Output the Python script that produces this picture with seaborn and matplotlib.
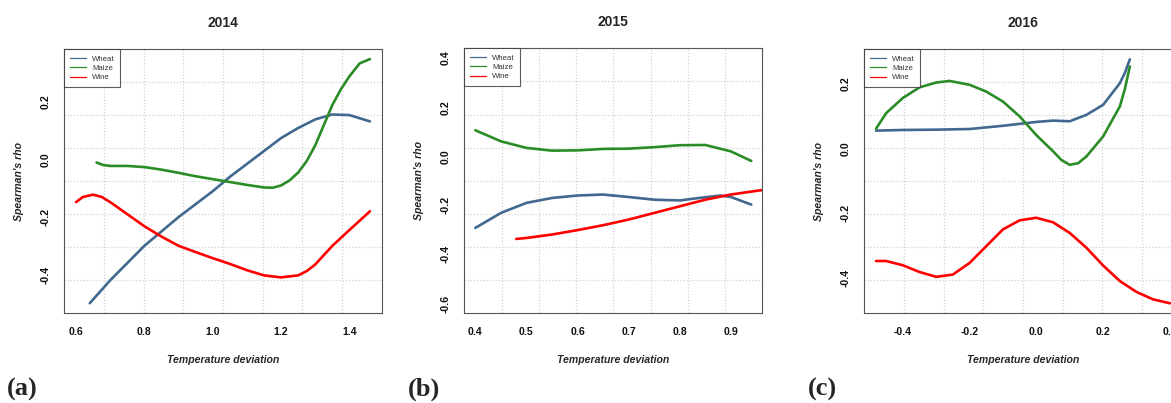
import numpy as np
import pandas as pd
import matplotlib
matplotlib.use("Agg")
import matplotlib.pyplot as plt
from matplotlib.lines import Line2D
import seaborn as sns

# ---- 2014 ----
wheat14_x = [0.64, 0.70, 0.75, 0.80, 0.85, 0.90, 0.95, 1.00, 1.05, 1.10, 1.15, 1.20, 1.25, 1.30, 1.35, 1.40, 1.46]
wheat14_y = [-0.50, -0.42, -0.36, -0.30, -0.25, -0.20, -0.155, -0.11, -0.06, -0.015, 0.03, 0.075, 0.11, 0.14, 0.157, 0.155, 0.133]
maize14_x = [0.66, 0.68, 0.70, 0.75, 0.80, 0.85, 0.90, 0.95, 1.00, 1.05, 1.10, 1.15, 1.175, 1.20, 1.225, 1.25, 1.275, 1.30, 1.325, 1.35, 1.375, 1.40, 1.43, 1.46]
maize14_y = [-0.01, -0.019, -0.022, -0.022, -0.026, -0.035, -0.046, -0.058, -0.068, -0.078, -0.088, -0.097, -0.098, -0.09, -0.072, -0.045, -0.005, 0.05, 0.12, 0.19, 0.245, 0.29, 0.335, 0.35]
wine14_x = [0.60, 0.62, 0.65, 0.675, 0.70, 0.75, 0.80, 0.85, 0.90, 0.95, 1.00, 1.05, 1.10, 1.15, 1.20, 1.25, 1.275, 1.30, 1.35, 1.40, 1.46]
wine14_y = [-0.148, -0.13, -0.122, -0.13, -0.148, -0.19, -0.232, -0.268, -0.30, -0.322, -0.343, -0.363, -0.385, -0.403, -0.41, -0.403, -0.388, -0.365, -0.30, -0.245, -0.18]

# ---- 2015 ----
wheat15_x = [0.40, 0.45, 0.50, 0.55, 0.60, 0.65, 0.70, 0.75, 0.80, 0.85, 0.88, 0.90, 0.94]
wheat15_y = [-0.292, -0.231, -0.19, -0.17, -0.16, -0.156, -0.166, -0.177, -0.18, -0.167, -0.16, -0.166, -0.197]
maize15_x = [0.40, 0.45, 0.50, 0.55, 0.60, 0.65, 0.70, 0.75, 0.80, 0.85, 0.90, 0.94]
maize15_y = [0.106, 0.061, 0.034, 0.023, 0.024, 0.03, 0.031, 0.037, 0.045, 0.046, 0.02, -0.019]
wine15_x = [0.48, 0.50, 0.55, 0.60, 0.65, 0.70, 0.75, 0.80, 0.85, 0.90, 0.95, 1.00]
wine15_y = [-0.337, -0.333, -0.319, -0.301, -0.281, -0.258, -0.231, -0.204, -0.177, -0.156, -0.141, -0.127]

# ---- 2016 ----
wheat16_x = [-0.48, -0.40, -0.30, -0.20, -0.10, -0.05, 0.00, 0.05, 0.10, 0.15, 0.20, 0.25, 0.265, 0.28]
wheat16_y = [0.056, 0.058, 0.059, 0.061, 0.071, 0.077, 0.083, 0.087, 0.085, 0.105, 0.136, 0.203, 0.235, 0.277]
maize16_x = [-0.48, -0.45, -0.40, -0.35, -0.30, -0.26, -0.20, -0.15, -0.10, -0.05, 0.00, 0.05, 0.075, 0.10, 0.125, 0.15, 0.20, 0.25, 0.265, 0.28]
maize16_y = [0.062, 0.11, 0.157, 0.19, 0.205, 0.21, 0.198, 0.177, 0.146, 0.10, 0.042, -0.008, -0.035, -0.05, -0.045, -0.024, 0.038, 0.131, 0.185, 0.255]
wine16_x = [-0.48, -0.45, -0.40, -0.35, -0.30, -0.25, -0.20, -0.15, -0.10, -0.05, 0.00, 0.05, 0.10, 0.15, 0.20, 0.25, 0.30, 0.35, 0.40]
wine16_y = [-0.348, -0.348, -0.361, -0.382, -0.397, -0.39, -0.354, -0.302, -0.25, -0.222, -0.214, -0.228, -0.261, -0.307, -0.362, -0.41, -0.444, -0.467, -0.479]

crops = ["Wheat", "Maize", "Wine"]
palette = {"Wheat": "#41698F", "Maize": "#2A8C27", "Wine": "#FF0000"}

years = ["2014", "2015", "2016"]
panel_tags = ["(a)", "(b)", "(c)"]
series = {
    "2014": [(wheat14_x, wheat14_y), (maize14_x, maize14_y), (wine14_x, wine14_y)],
    "2015": [(wheat15_x, wheat15_y), (maize15_x, maize15_y), (wine15_x, wine15_y)],
    "2016": [(wheat16_x, wheat16_y), (maize16_x, maize16_y), (wine16_x, wine16_y)],
}
xlims = {"2014": (0.5656, 1.4944), "2015": (0.3784, 0.9616), "2016": (-0.5152, 0.4352)}
ylims = {"2014": (-0.535, 0.384), "2015": (-0.64, 0.44), "2016": (-0.510, 0.308)}
xticks = {"2014": [0.6, 0.8, 1.0, 1.2, 1.4],
          "2015": [0.4, 0.5, 0.6, 0.7, 0.8, 0.9],
          "2016": [-0.4, -0.2, 0.0, 0.2, 0.4]}
yticks = {"2014": [-0.4, -0.2, 0.0, 0.2],
          "2015": [-0.6, -0.4, -0.2, 0.0, 0.2, 0.4],
          "2016": [-0.4, -0.2, 0.0, 0.2]}

sns.set_style("white")
plt.rcParams["font.family"] = ["Liberation Sans", "DejaVu Sans"]

W, H = 1171, 403
fig = plt.figure(figsize=(W / 100, H / 100), dpi=100)

# axes boxes in pixels: left, top, right, bottom
boxes = {"2014": (64.3, 49.3, 381.7, 313.3),
         "2015": (464.3, 48.3, 762.3, 313.3),
         "2016": (864.3, 49.3, 1181.7, 313.3)}
tag_x = {"2014": 7, "2015": 408, "2016": 808}

frame_col = "#555555"

for year, tag in zip(years, panel_tags):
    l, t, r, b = boxes[year]
    ax = fig.add_axes([l / W, 1 - b / H, (r - l) / W, (b - t) / H])
    rows = []
    for crop, (xs, ys) in zip(crops, series[year]):
        for xv, yv in zip(xs, ys):
            rows.append({"x": xv, "rho": yv, "crop": crop})
    df = pd.DataFrame(rows)

    x0, x1 = xlims[year]
    y0, y1 = ylims[year]
    # dotted grid dividing the plotting region into 8 x 8 cells
    for gx in np.linspace(x0, x1, 9)[1:-1]:
        ax.axvline(gx, color="#D3D3D3", lw=0.9, ls=(0, (1, 1.5)), zorder=0)
    for gy in np.linspace(y0, y1, 9)[1:-1]:
        ax.axhline(gy, color="#D3D3D3", lw=0.9, ls=(0, (1, 1.5)), zorder=0)

    sns.lineplot(data=df, x="x", y="rho", hue="crop", hue_order=crops,
                 palette=palette, estimator=None, linewidth=1.9, ax=ax, legend=False)

    ax.set_xlim(x0, x1)
    ax.set_ylim(y0, y1)
    ax.set_xticks(xticks[year])
    ax.set_yticks(yticks[year])
    ax.set_xticklabels([f"{v:.1f}" for v in xticks[year]], fontsize=7.6, fontweight="bold")
    ax.set_yticklabels([f"{v:.1f}" for v in yticks[year]], fontsize=7.6, fontweight="bold",
                       rotation=90, va="center")
    ax.tick_params(axis="both", direction="out", length=4, width=0.8, color=frame_col,
                   labelcolor="#111111", pad=6)
    for sp in ax.spines.values():
        sp.set_color(frame_col)
        sp.set_linewidth(0.8)

    hpx = b - t
    wpx = r - l
    ax.set_xlabel("Temperature deviation", fontsize=7.6, fontweight="bold", fontstyle="italic")
    ax.set_ylabel("Spearman's rho", fontsize=7.6, fontweight="bold", fontstyle="italic")
    ax.xaxis.set_label_coords(0.5, -47 / hpx)
    ax.xaxis.label.set_va("center")
    ax.yaxis.set_label_coords(-45.3 / wpx, 0.5)
    ax.yaxis.label.set_va("center")

    ax.text(0.5, 1 + 26 / hpx, year, transform=ax.transAxes, ha="center", va="center",
            fontsize=10, fontweight="bold")

    handles = [Line2D([], [], color=palette[c], lw=0.9) for c in crops]
    leg = ax.legend(handles, crops, loc="upper left", bbox_to_anchor=(0, 1), borderaxespad=0,
                    fontsize=5.6, frameon=True, fancybox=False, handlelength=2.0,
                    handletextpad=0.8, labelspacing=0.25, borderpad=0.75)
    leg.get_frame().set_edgecolor("#333333")
    leg.get_frame().set_linewidth(0.8)
    for txt in leg.get_texts():
        txt.set_color("#333333")

    fig.text(tag_x[year] / W, 1 - 389 / H, tag, ha="left", va="center",
             fontsize=19, fontweight="bold", family=["Liberation Serif", "DejaVu Serif"])

fig.savefig("out.png", dpi=100)
